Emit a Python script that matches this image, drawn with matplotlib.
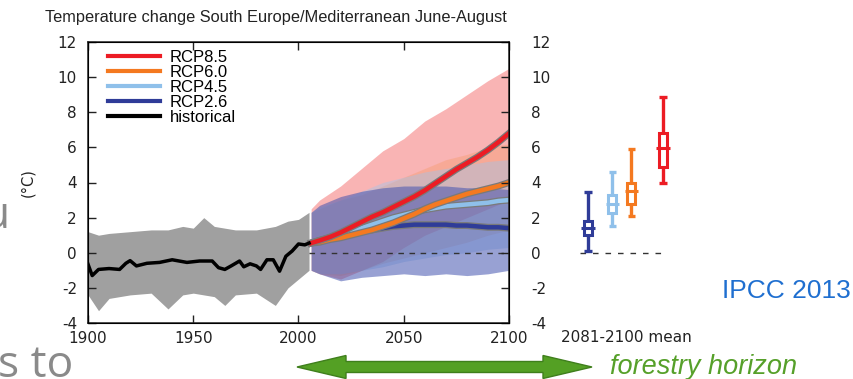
import matplotlib
matplotlib.use('Agg')
import matplotlib.pyplot as plt
import matplotlib.patheffects as pe
from matplotlib.lines import Line2D
from matplotlib.patches import Polygon, Rectangle
import numpy as np

plt.rcParams['font.family'] = ['DejaVu Sans']

# ---- data ----
hist_years = [1900, 1902, 1905, 1910, 1915, 1918, 1920, 1923, 1928, 1934, 1940, 1947,
              1953, 1959, 1962, 1965, 1968, 1972, 1974, 1977, 1980, 1982, 1985, 1988,
              1991, 1994, 1997, 2000, 2003, 2005]
hist_mean = [-0.65, -1.3, -0.95, -0.9, -0.95, -0.6, -0.45, -0.75, -0.6, -0.55, -0.4, -0.55,
             -0.47, -0.47, -0.85, -0.95, -0.75, -0.47, -0.8, -0.63, -0.75, -0.95, -0.4, -0.4,
             -1.05, -0.2, 0.1, 0.5, 0.45, 0.55]

hist_env_years = [1900, 1905, 1910, 1920, 1930, 1938, 1945, 1950, 1955, 1960, 1965,
                  1970, 1980, 1989, 1995, 2000, 2005]
hist_upper = [1.2, 1.0, 1.1, 1.2, 1.3, 1.3, 1.5, 1.4, 2.0, 1.5, 1.4,
              1.3, 1.3, 1.5, 1.8, 1.9, 2.3]
hist_lower = [-2.4, -3.3, -2.6, -2.4, -2.3, -3.2, -2.4, -2.3, -2.4, -2.5, -3.0,
              -2.4, -2.3, -3.0, -2.0, -1.5, -1.0]

fut_years = [2006, 2010, 2015, 2020, 2025, 2030, 2035, 2040, 2045, 2050,
             2055, 2060, 2065, 2070, 2075, 2080, 2085, 2090, 2095, 2100]
rcp26_mean = [0.55, 0.7, 0.85, 0.95, 1.05, 1.2, 1.3, 1.4, 1.5, 1.55,
              1.6, 1.6, 1.6, 1.6, 1.55, 1.55, 1.5, 1.45, 1.45, 1.4]
rcp45_mean = [0.55, 0.7, 0.85, 1.0, 1.2, 1.4, 1.6, 1.8, 2.0, 2.15,
              2.3, 2.45, 2.55, 2.65, 2.7, 2.75, 2.8, 2.85, 2.95, 3.0]
rcp60_mean = [0.55, 0.6, 0.75, 0.85, 1.0, 1.15, 1.3, 1.5, 1.7, 1.95,
              2.2, 2.5, 2.75, 2.95, 3.15, 3.35, 3.5, 3.65, 3.8, 4.0]
rcp85_mean = [0.55, 0.7, 0.9, 1.15, 1.45, 1.75, 2.05, 2.3, 2.6, 2.9,
              3.2, 3.55, 3.95, 4.35, 4.75, 5.1, 5.45, 5.85, 6.3, 6.8]

env_years = [2006, 2010, 2020, 2030, 2040, 2050, 2060, 2070, 2080, 2090, 2100]
rcp85_upper = [2.5, 3.0, 3.8, 4.8, 5.8, 6.5, 7.5, 8.2, 9.0, 9.8, 10.5]
rcp85_lower = [-1.0, -1.2, -1.5, -1.0, -0.5, 0.3, 1.0, 1.5, 2.0, 2.5, 3.0]
rcp60_upper = [2.3, 2.5, 3.0, 3.3, 3.8, 4.3, 4.8, 5.3, 5.6, 6.0, 6.2]
rcp60_lower = [-1.0, -1.2, -1.3, -1.0, -0.6, -0.3, 0.0, 0.3, 0.6, 1.0, 1.3]
rcp45_upper = [2.3, 2.6, 3.0, 3.5, 4.0, 4.3, 4.6, 4.8, 5.0, 5.2, 5.3]
rcp45_lower = [-1.0, -1.2, -1.2, -1.0, -0.8, -0.5, -0.3, -0.1, 0.0, 0.2, 0.3]
rcp26_upper = [2.3, 2.7, 3.2, 3.5, 3.7, 3.8, 3.8, 3.8, 3.7, 3.7, 3.6]
rcp26_lower = [-1.0, -1.2, -1.6, -1.4, -1.3, -1.2, -1.3, -1.2, -1.3, -1.2, -1.0]

# 2081-2100 mean boxes, x position = forcing
box_pos = [2.6, 4.5, 6.0, 8.5]
box_lo = [0.1, 1.5, 2.1, 4.0]
box_q1 = [1.0, 2.25, 2.75, 4.9]
box_med = [1.4, 2.8, 3.5, 5.95]
box_q3 = [1.8, 3.3, 3.95, 6.8]
box_hi = [3.45, 4.6, 5.9, 8.85]

labels = ['RCP8.5', 'RCP6.0', 'RCP4.5', 'RCP2.6', 'historical']
c85, c60, c45, c26 = '#ec1c24', '#f47920', '#8fc0ea', '#2f3c98'
box_colors = [c26, c45, c60, c85]

yticks = [-4, -2, 0, 2, 4, 6, 8, 10, 12]

# ---- layout helpers (pixel -> figure fraction) ----
W, H = 854, 379
def fx(px):
    return px / W
def fy(py):
    return 1 - py / H

fig = plt.figure(figsize=(W / 100, H / 100), dpi=100)
ax = fig.add_axes([fx(88), fy(323), fx(509) - fx(88), fy(42) - fy(323)])

# spread envelopes
ax.fill_between(hist_env_years, hist_lower, hist_upper, color='#8f8f8f', lw=0, alpha=0.85)
ax.fill_between(env_years, rcp85_lower, rcp85_upper, color='#f03c3c', lw=0, alpha=0.38)
ax.fill_between(env_years, rcp60_lower, rcp60_upper, color='#f58a40', lw=0, alpha=0.25)
ax.fill_between(env_years, rcp45_lower, rcp45_upper, color='#9cc6ee', lw=0, alpha=0.4)
ax.fill_between(env_years, rcp26_lower, rcp26_upper, color='#4455b0', lw=0, alpha=0.55)

ax.plot([2005, 2100], [0, 0], ls=(0, (4, 4)), color='#333333', lw=1)

outline = [pe.Stroke(linewidth=5, foreground='#7a7a7a'), pe.Normal()]
for mean, col in [(rcp26_mean, c26), (rcp45_mean, c45), (rcp60_mean, c60), (rcp85_mean, c85)]:
    ax.plot(fut_years, mean, color=col, lw=3.2, path_effects=outline, solid_joinstyle='round')
ax.plot(hist_years, hist_mean, color='black', lw=2.5)

ax.set_xlim(1900, 2100)
ax.set_ylim(-4, 12)
ax.set_xticks([1900, 1950, 2000, 2050, 2100])
ax.set_yticks(yticks)
ax.set_yticklabels([str(t) for t in yticks])
ax.tick_params(direction='in', length=6, width=1, top=True, labelsize=11, colors='#222222')
ax.tick_params(axis='y', pad=8)
ax.tick_params(axis='x', pad=6)
for s in ax.spines.values():
    s.set_linewidth(1.1)
    s.set_color('#222222')

ax2 = ax.twinx()
ax2.set_ylim(-4, 12)
ax2.set_yticks(yticks)
ax2.set_yticklabels([str(t) for t in yticks])
ax2.tick_params(direction='in', length=6, width=1, labelsize=11, pad=16, colors='#222222')

handles = [Line2D([], [], color=c, lw=3) for c in [c85, c60, c45, c26, 'black']]
ax.legend(handles, labels, loc='upper left', bbox_to_anchor=(fx(108), fy(50)),
          bbox_transform=fig.transFigure, frameon=False,
          prop={'family': 'Liberation Sans', 'size': 12},
          handlelength=3.1, handletextpad=0.6, labelspacing=0.0, borderpad=0,
          borderaxespad=0)

# box plots of 2081-2100 mean
bx = fig.add_axes([fx(555), fy(323), fx(682) - fx(555), fy(42) - fy(323)])
bx.set_xlim(0, 10)
bx.set_ylim(-4, 12)
bx.axis('off')
bx.plot([2.0, 8.8], [0, 0], ls=(0, (4, 5)), color='#333333', lw=1)
for p, lo, q1, md, q3, hi, col in zip(box_pos, box_lo, box_q1, box_med, box_q3, box_hi, box_colors):
    bx.vlines(p, lo, q1, color=col, lw=2.4)
    bx.vlines(p, q3, hi, color=col, lw=2.4)
    bx.hlines([lo, hi], p - 0.28, p + 0.28, color=col, lw=2.4)
    bx.add_patch(Rectangle((p - 0.33, q1), 0.66, q3 - q1, fill=False, ec=col, lw=2.2))
    bx.hlines(md, p - 0.52, p + 0.52, color=col, lw=2.2)

# texts
fig.text(fx(276), fy(17.5), 'Temperature change South Europe/Mediterranean June-August',
         ha='center', va='center', fontsize=11.8, color='#222222', family='Liberation Sans')
fig.text(fx(28), fy(183), '(°C)', rotation=90, ha='center', va='center', fontsize=10.5,
         color='#222222')
fig.text(fx(561), fy(337), '2081-2100 mean', ha='left', va='center', fontsize=11,
         color='#222222')
fig.text(fx(722), fy(291), 'IPCC 2013', ha='left', va='center', fontsize=19,
         color='#1f6fd0', family='Liberation Sans')
fig.text(fx(610), fy(367), 'forestry horizon', ha='left', va='center', fontsize=19.5,
         style='italic', color='#56a02a', family='Liberation Sans')
fig.text(fx(-2), fy(377), 's to', ha='left', va='baseline', fontsize=32,
         color='#8a8a8a', family='Open Sans')
fig.text(fx(-17), fy(228), 'u', ha='left', va='baseline', fontsize=32,
         color='#8a8a8a', family='Open Sans')

# double-headed green arrow
tipL, tipR, yc = 297, 592, 367
hl, hh, sh = 49, 11.5, 5.5
pts = [(tipL, yc), (tipL + hl, yc - hh), (tipL + hl, yc - sh), (tipR - hl, yc - sh),
       (tipR - hl, yc - hh), (tipR, yc), (tipR - hl, yc + hh), (tipR - hl, yc + sh),
       (tipL + hl, yc + sh), (tipL + hl, yc + hh)]
fig.add_artist(Polygon([(fx(x), fy(y)) for x, y in pts], closed=True,
                       transform=fig.transFigure, fc='#54a024', ec='#3f7f1c', lw=1))

fig.savefig('out.png', dpi=100)
